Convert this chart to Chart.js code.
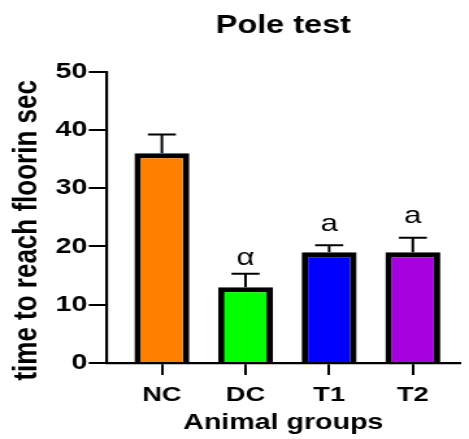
<!DOCTYPE html>
<html>
<head>
<meta charset="utf-8">
<script src="https://cdn.jsdelivr.net/npm/chart.js@4"></script>
<style>
  html, body { margin: 0; padding: 0; background: #fff; overflow: hidden; }
  /* the reference looks stretched sideways: draw narrow, then widen */
  .wrap { width: 361px; height: 439px; transform: scaleX(1.2992); transform-origin: 0 0; }
</style>
</head>
<body>
<div class="wrap"><canvas id="chart"></canvas></div>
<script>
const groups = ['NC', 'DC', 'T1', 'T2'];
const means = [36, 13, 19, 19];
const sems = [3.2, 2.3, 1.2, 2.5];
const marks = ['', 'α', 'a', 'a'];
const markLevels = [null, 16.8, 22.7, 24.1];
const barColors = ['#FF8000', '#00FF00', '#0000FF', '#A600DE'];
const yTicks = [0, 10, 20, 30, 40, 50];
const yTitle = 'time to reach floorin sec';

const FONT = '"Liberation Sans", Arial, sans-serif';
Chart.defaults.color = '#000';
Chart.defaults.font.family = FONT;

// error bars (upper half only), significance letters and the y title
const extras = {
  id: 'extras',
  afterDatasetsDraw(chart) {
    const ctx = chart.ctx;
    const y = chart.scales.y;
    chart.getDatasetMeta(0).data.forEach((bar, i) => {
      const top = y.getPixelForValue(means[i] + sems[i]);
      ctx.save();
      ctx.strokeStyle = '#000';
      ctx.lineWidth = 2;
      ctx.beginPath();
      ctx.moveTo(bar.x, bar.y);
      ctx.lineTo(bar.x, top);
      ctx.moveTo(bar.x - 10.8, top);
      ctx.lineTo(bar.x + 10.8, top);
      ctx.stroke();
      if (marks[i]) {
        ctx.fillStyle = '#000';
        ctx.font = '24px ' + FONT;
        ctx.textAlign = 'center';
        ctx.textBaseline = 'alphabetic';
        ctx.fillText(marks[i], bar.x, y.getPixelForValue(markLevels[i]));
      }
      ctx.restore();
    });

    // y title sits a bit below the middle of the axis in the original
    ctx.save();
    ctx.translate(21.2, (chart.chartArea.top + chart.chartArea.bottom) / 2 + 13);
    ctx.rotate(-Math.PI / 2);
    ctx.fillStyle = '#000';
    ctx.font = 'bold 26px ' + FONT;
    ctx.textAlign = 'center';
    ctx.textBaseline = 'middle';
    ctx.fillText(yTitle, 0, 0);
    ctx.restore();
  }
};

new Chart(document.getElementById('chart'), {
  type: 'bar',
  data: {
    datasets: [{
      data: groups.map((g, i) => ({ x: i, y: means[i] })),
      backgroundColor: barColors,
      borderColor: '#000',
      borderWidth: 5,
      barPercentage: 0.657,
      categoryPercentage: 1
    }]
  },
  options: {
    responsive: true,
    maintainAspectRatio: false,
    animation: false,
    layout: { padding: { top: 4, left: 4, right: 7.2, bottom: 0 } },
    plugins: {
      legend: { display: false },
      tooltip: { enabled: false },
      title: {
        display: true,
        text: 'Pole test',
        fullSize: false,
        color: '#000',
        font: { size: 25, weight: 'bold', lineHeight: 1 },
        padding: { top: 9.8, bottom: 32.9 }
      }
    },
    scales: {
      x: {
        type: 'linear',
        offset: false,
        min: -0.657,
        max: 3.56,
        afterBuildTicks: (s) => { s.ticks = groups.map((g, i) => ({ value: i })); },
        afterFit: (s) => { s.height = 76; },
        ticks: {
          autoSkip: false,
          callback: (v) => groups[v],
          font: { size: 21, weight: 'bold', lineHeight: 1.2 },
          padding: 8,
          color: '#000'
        },
        grid: { display: true, offset: false, drawOnChartArea: false, color: '#000', lineWidth: 2, tickLength: 12 },
        border: { display: true, color: '#000', width: 2.2 },
        title: {
          display: true,
          text: 'Animal groups',
          color: '#000',
          font: { size: 22, weight: 'bold', lineHeight: 1 },
          padding: { top: 0, bottom: 4.6 }
        }
      },
      y: {
        min: 0,
        max: 50,
        afterBuildTicks: (s) => { s.ticks = yTicks.map(v => ({ value: v })); },
        afterFit: (s) => { s.width = 78.3; },
        ticks: {
          font: { size: 22, weight: 'bold', lineHeight: 1.2 },
          padding: 1,
          color: '#000'
        },
        grid: { display: true, drawOnChartArea: false, color: '#000', lineWidth: 2, tickLength: 14 },
        border: { display: true, color: '#000', width: 2.2 }
      }
    }
  },
  plugins: [extras]
});
</script>
</body>
</html>
